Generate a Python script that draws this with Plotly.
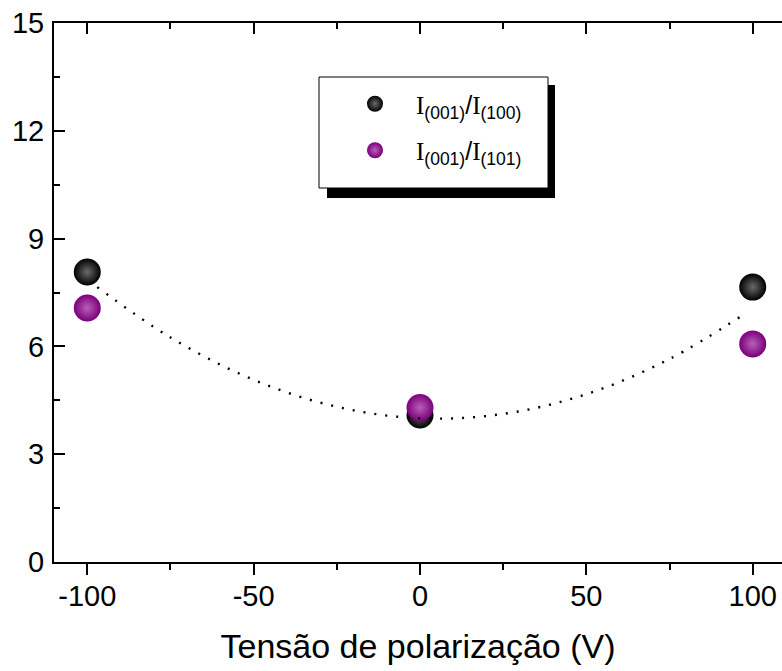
import plotly.graph_objects as go

# ---- data ----
voltage = [-100, 0, 100]
ratio_001_100 = [8.07, 4.09, 7.65]
ratio_001_101 = [7.07, 4.30, 6.07]
fit_x = [-97, -75, -50, -25, 0, 25, 50, 75, 97]
fit_y = [7.65, 6.25, 5.07, 4.32, 4.00, 4.12, 4.67, 5.65, 6.87]
x_ticks = [-100, -50, 0, 50, 100]
x_ticktext = ["-100", "-50", "0", "50", "100"]
y_ticks = [0, 3, 6, 9, 12, 15]
y_ticktext = ["0", "3", "6", "9", "12", "15"]

SERIF = "Liberation Serif"
SANS = "Liberation Sans, Arial, sans-serif"

def lbl(a, b):
    s = f"<span style='font-family:{SERIF}'>I</span>"
    return f"{s}<sub>({a})</sub>/{s}<sub>({b})</sub>"

W, H = 782, 671
L, R, T, B = 54, 0, 23, 109
pw = W - L - R
ph = H - T - B

def px2x(p):
    return (p - L) / pw

def px2y(p):
    return (H - B - p) / ph

fig = go.Figure()
fig.add_trace(go.Scatter(
    x=voltage, y=ratio_001_100, mode="markers", name=lbl("001", "100"),
    legendgroup="a",
    marker=dict(size=27, color="#000000", line=dict(width=0),
                gradient=dict(type="radial", color="#6a6a6a")),
))
fig.add_trace(go.Scatter(
    x=voltage, y=ratio_001_101, mode="markers", name=lbl("001", "101"),
    legendgroup="b",
    marker=dict(size=27, color="#7a007a", line=dict(width=0),
                gradient=dict(type="radial", color="#b860b8")),
))
fig.add_trace(go.Scatter(
    x=fit_x, y=fit_y, mode="lines", line=dict(color="black", width=2.4, dash="2px,9px", shape="spline"),
    showlegend=False, hoverinfo="skip",
))
fig.add_trace(go.Scatter(x=[None], y=[None], xaxis="x2", showlegend=False, hoverinfo="skip"))

axis_common = dict(showline=True, linewidth=2, linecolor="black", showgrid=False, zeroline=False,
                   tickwidth=2, tickcolor="black")

fig.update_layout(
    width=W, height=H,
    margin=dict(l=L, r=R, t=T, b=B, autoexpand=False),
    paper_bgcolor="white", plot_bgcolor="white",
    font=dict(family=SANS, color="black"),
    xaxis=dict(range=[-110, 108.8], tickvals=x_ticks, ticktext=x_ticktext, ticks="outside", ticklen=11,
               tickfont=dict(size=29, family=SANS), ticklabelstandoff=-4,
               minor=dict(dtick=25, tick0=0, ticks="outside", ticklen=6, tickwidth=2, tickcolor="black"),
               title=dict(text="Tensão de polarização (V)", font=dict(size=34, family=SANS), standoff=23),
               automargin=False, **axis_common),
    xaxis2=dict(range=[-110, 108.8], overlaying="x", side="top", anchor="y", tickvals=x_ticks,
                ticks="inside", ticklen=11, showticklabels=False,
                minor=dict(dtick=25, tick0=0, ticks="inside", ticklen=6, tickwidth=2, tickcolor="black"),
                **axis_common),
    yaxis=dict(range=[0, 15], tickvals=y_ticks, ticktext=y_ticktext, ticks="inside", ticklen=11,
               tickfont=dict(size=29, family=SANS), ticklabelstandoff=2,
               minor=dict(dtick=1.5, tick0=0, ticks="inside", ticklen=6, tickwidth=2, tickcolor="black"),
               automargin=False, **axis_common),
    legend=dict(x=px2x(334), y=px2y(81), xanchor="left", yanchor="top",
                bgcolor="rgba(0,0,0,0)", borderwidth=0,
                font=dict(size=25, family=SANS, color="black"),
                tracegroupgap=11, itemwidth=72),
    shapes=[
        dict(type="rect", xref="paper", yref="paper", x0=px2x(327), x1=px2x(555),
             y0=px2y(198), y1=px2y(85), fillcolor="black", line=dict(width=0), layer="above"),
        dict(type="rect", xref="paper", yref="paper", x0=px2x(319), x1=px2x(548),
             y0=px2y(188), y1=px2y(77), fillcolor="white", line=dict(width=1, color="black"), layer="above"),
    ],
    showlegend=True,
)

fig.write_html("out.html")
